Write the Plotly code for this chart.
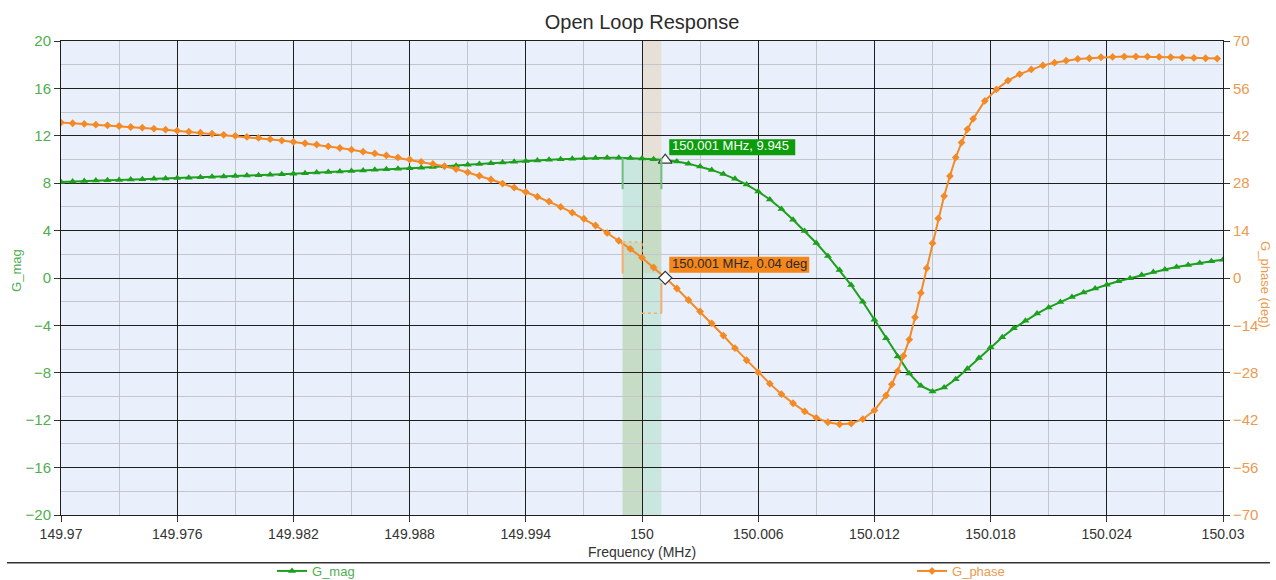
import plotly.graph_objects as go

# ---- sweep data -----------------------------------------------------------
SWEEP_START = 149.97      # MHz
SWEEP_STEP = 0.0006       # MHz
SWEEP_POINTS = 101

freq_mag = [round(SWEEP_START + SWEEP_STEP * k, 4) for k in range(SWEEP_POINTS)]

g_mag = [
    8.10, 8.15, 8.19, 8.22, 8.25, 8.28, 8.31, 8.34, 8.37, 8.40,
    8.43, 8.47, 8.51, 8.54, 8.57, 8.61, 8.65, 8.68, 8.72, 8.76,
    8.80, 8.85, 8.90, 8.94, 8.99, 9.04, 9.08, 9.13, 9.17, 9.22,
    9.26, 9.31, 9.36, 9.42, 9.48, 9.55, 9.61, 9.68, 9.75, 9.81,
    9.87, 9.92, 9.97, 10.02, 10.06, 10.10, 10.13, 10.15, 10.15, 10.13,
    10.09, 10.03, 9.945, 9.84, 9.65, 9.41, 9.12, 8.77, 8.37, 7.88,
    7.30, 6.62, 5.82, 4.92, 3.96, 2.95, 1.85, 0.67, -0.60, -2.00,
    -3.52, -5.08, -6.62, -8.05, -9.10, -9.58, -9.25, -8.55, -7.65, -6.75,
    -5.85, -5.00, -4.25, -3.60, -3.00, -2.48, -2.02, -1.60, -1.22, -0.88,
    -0.57, -0.28, -0.02, 0.25, 0.50, 0.72, 0.92, 1.10, 1.27, 1.42,
    1.55,
]

# phase sweep is refined around the steep transition
freq_phase = freq_mag[:72] + [
    150.0129, 150.0132, 150.0135, 150.0138, 150.0141, 150.0144, 150.0147,
    150.0150, 150.0153, 150.0156, 150.0159, 150.0162, 150.0165, 150.0168,
    150.0171,
    150.0177, 150.0183, 150.0189, 150.0195, 150.0201, 150.0207, 150.0213,
    150.0219, 150.0225, 150.0231, 150.0237, 150.0243, 150.0249, 150.0255,
    150.0261, 150.0267, 150.0273, 150.0279, 150.0285, 150.0291, 150.0297,
]

g_phase = [
    45.9, 45.7, 45.5, 45.3, 45.1, 44.9, 44.6, 44.4, 44.1, 43.8,
    43.5, 43.2, 42.9, 42.6, 42.3, 42.0, 41.7, 41.4, 41.0, 40.6,
    40.2, 39.8, 39.4, 38.9, 38.4, 37.9, 37.3, 36.8, 36.2, 35.6,
    35.0, 34.3, 33.7, 33.0, 32.2, 31.2, 30.2, 29.1, 27.9, 26.7,
    25.4, 24.0, 22.6, 21.0, 19.3, 17.5, 15.5, 13.3, 11.0, 8.6,
    6.0, 3.1, 0.04, -3.1, -6.5, -9.9, -13.4, -17.0, -20.7, -24.3,
    -27.9, -31.2, -34.3, -37.0, -39.4, -41.3, -42.6, -43.2, -43.0, -41.7,
    -39.1, -34.7,
    -31.4, -27.5, -23.0, -18.2, -11.6, -4.4, 2.9, 10.3, 17.6, 24.2,
    30.1, 35.6, 40.0, 43.9, 47.0,
    52.3, 55.7, 58.3, 60.2, 61.6, 62.8, 63.6, 64.2, 64.7, 64.9,
    65.2, 65.3, 65.4, 65.4, 65.4, 65.3, 65.2, 65.1, 65.0, 64.9,
    64.8,
]

# cursor placed on sweep point 52
CURSOR_IDX = 52
cursor_freq = freq_mag[CURSOR_IDX]
cursor_mag = g_mag[CURSOR_IDX]
cursor_phase = g_phase[freq_phase.index(cursor_freq)]

# ---- axis ticks -----------------------------------------------------------
x_tick_vals = [149.97, 149.976, 149.982, 149.988, 149.994, 150.0,
               150.006, 150.012, 150.018, 150.024, 150.03]
x_tick_text = ["149.97", "149.976", "149.982", "149.988", "149.994", "150",
               "150.006", "150.012", "150.018", "150.024", "150.03"]
y_tick_vals = [-20, -16, -12, -8, -4, 0, 4, 8, 12, 16, 20]
y2_tick_vals = [-70, -56, -42, -28, -14, 0, 14, 28, 42, 56, 70]

# ---- styling --------------------------------------------------------------
GREEN = "#1c9f1c"
ORANGE = "#f28a25"
GREEN_TXT = "#4fae4f"
ORANGE_TXT = "#eb9a50"
MAJOR_GRID = "#1e1e1e"
MINOR_GRID = "#c3c6cc"
FONT = "Liberation Sans, Arial, sans-serif"

# marker band edges (MHz)
band_lo, band_mid, band_hi = 149.999, 150.0, 150.001

fig = go.Figure()

fig.add_trace(go.Scatter(
    x=freq_mag, y=g_mag, name=f"<span style='color:{GREEN_TXT}'>G_mag</span>",
    mode="lines+markers", line=dict(color=GREEN, width=2),
    marker=dict(symbol="triangle-up", size=7, color=GREEN),
    yaxis="y", legend="legend",
))
fig.add_trace(go.Scatter(
    x=freq_phase, y=g_phase, name=f"<span style='color:{ORANGE_TXT}'>G_phase</span>",
    mode="lines+markers", line=dict(color=ORANGE, width=2),
    marker=dict(symbol="diamond", size=6, color=ORANGE),
    yaxis="y2", legend="legend2",
))

# cursor markers
fig.add_trace(go.Scatter(
    x=[cursor_freq], y=[cursor_mag], mode="markers", showlegend=False,
    marker=dict(symbol="triangle-up", size=12, color="white",
                line=dict(color="#333333", width=1.2)),
    yaxis="y",
))
fig.add_trace(go.Scatter(
    x=[cursor_freq], y=[cursor_phase], mode="markers", showlegend=False,
    marker=dict(symbol="diamond", size=10, color="white",
                line=dict(color="#333333", width=1.2)),
    yaxis="y2",
))

shapes = []
TAN = "rgba(220,170,80,0.22)"
MINT = "rgba(130,212,160,0.30)"
# shaded marker bands
shapes.append(dict(type="rect", xref="x", yref="y", x0=band_mid, x1=band_hi,
                   y0=0.4, y1=20, fillcolor=TAN, line=dict(width=0), layer="below"))
shapes.append(dict(type="rect", xref="x", yref="y", x0=band_lo, x1=band_mid,
                   y0=-20, y1=3.0, fillcolor=TAN, line=dict(width=0), layer="below"))
shapes.append(dict(type="rect", xref="x", yref="y", x0=band_lo, x1=band_hi,
                   y0=-20, y1=10.15, fillcolor=MINT, line=dict(width=0), layer="below"))

# magnitude bracket
for bx in (band_lo, band_hi):
    shapes.append(dict(type="line", xref="x", yref="y", x0=bx, x1=bx,
                       y0=7.5, y1=10.15, line=dict(color="#6dbf7b", width=2)))

# phase bracket
PH_BR = "#f5ae6e"
shapes.append(dict(type="line", xref="x", yref="y2", x0=band_lo, x1=band_lo,
                   y0=1.3, y1=10.6, line=dict(color=PH_BR, width=2)))
shapes.append(dict(type="line", xref="x", yref="y2", x0=band_lo, x1=band_mid,
                   y0=10.6, y1=10.6, line=dict(color=PH_BR, width=1.5, dash="dot")))
shapes.append(dict(type="line", xref="x", yref="y2", x0=band_mid, x1=band_mid,
                   y0=7.6, y1=10.6, line=dict(color=PH_BR, width=1.5, dash="dot")))
shapes.append(dict(type="line", xref="x", yref="y2", x0=band_hi, x1=band_hi,
                   y0=-10.4, y1=-1.5, line=dict(color=PH_BR, width=2)))
shapes.append(dict(type="line", xref="x", yref="y2", x0=band_mid, x1=band_hi,
                   y0=-10.4, y1=-10.4, line=dict(color=PH_BR, width=1.5, dash="dot")))

# cursor label boxes (pixel-sized, anchored at the cursor points)
shapes.append(dict(type="rect", xref="x", yref="y", xsizemode="pixel", ysizemode="pixel",
                   xanchor=cursor_freq, yanchor=cursor_mag, x0=4, x1=130, y0=5, y1=21,
                   fillcolor="#0c9c0c", line=dict(width=0)))
shapes.append(dict(type="rect", xref="x", yref="y2", xsizemode="pixel", ysizemode="pixel",
                   xanchor=cursor_freq, yanchor=cursor_phase, x0=4, x1=144, y0=5, y1=21,
                   fillcolor="#f5861c", line=dict(width=0)))

# legend separator
shapes.append(dict(type="line", xref="paper", yref="paper", x0=-0.0465, x1=1.0404,
                   y0=-0.101, y1=-0.101, line=dict(color="#333333", width=1.5)))

annotations = [
    dict(x=cursor_freq, y=cursor_mag, xref="x", yref="y",
         text=f"{cursor_freq:.3f} MHz, {cursor_mag:.3f}",
         showarrow=False, xanchor="left", yanchor="bottom", xshift=5, yshift=5,
         font=dict(family=FONT, size=13, color="white")),
    dict(x=cursor_freq, y=cursor_phase, xref="x", yref="y2",
         text=f"{cursor_freq:.3f} MHz, {cursor_phase:.2f} deg",
         showarrow=False, xanchor="left", yanchor="bottom", xshift=5, yshift=5,
         font=dict(family=FONT, size=13, color="#2a2a2a")),
    dict(x=-0.0379, y=0.517, xref="paper", yref="paper", text="G_mag",
         textangle=-90, showarrow=False, xanchor="center", yanchor="middle",
         font=dict(family=FONT, size=13, color=GREEN_TXT)),
    dict(x=1.037, y=0.485, xref="paper", yref="paper", text="G_phase (deg)",
         textangle=90, showarrow=False, xanchor="center", yanchor="middle",
         font=dict(family=FONT, size=13, color=ORANGE_TXT)),
    dict(x=0.5, y=-0.078, xref="paper", yref="paper", text="Frequency (MHz)",
         showarrow=False, xanchor="center", yanchor="middle",
         font=dict(family=FONT, size=14, color="#333333")),
]

legend_common = dict(
    orientation="h", yanchor="middle", y=-0.1181, xanchor="left",
    font=dict(family=FONT, size=13), bgcolor="rgba(0,0,0,0)",
    borderwidth=0, itemwidth=30,
)

fig.update_layout(
    width=1276, height=580,
    margin=dict(l=61, r=53, t=41, b=65, autoexpand=False),
    paper_bgcolor="white", plot_bgcolor="#eaf0fb",
    title=dict(text="Open Loop Response", x=0.5, xref="paper", y=0.962, yanchor="middle",
               font=dict(family=FONT, size=20, color="#2b2b2b")),
    font=dict(family=FONT),
    xaxis=dict(
        range=[149.97, 150.03], tickmode="array", tickvals=x_tick_vals, ticktext=x_tick_text,
        showgrid=True, gridcolor=MAJOR_GRID, gridwidth=1,
        minor=dict(tickmode="linear", tick0=149.97, dtick=0.003, showgrid=True,
                   gridcolor=MINOR_GRID, gridwidth=1, ticks=""),
        ticks="outside", ticklen=6, tickcolor="#333333",
        showline=True, linecolor=MAJOR_GRID, linewidth=1, mirror=True,
        tickfont=dict(family=FONT, size=14, color="#333333"),
        zeroline=False,
    ),
    yaxis=dict(
        range=[-20, 20], tickmode="array", tickvals=y_tick_vals,
        showgrid=True, gridcolor=MAJOR_GRID, gridwidth=1,
        minor=dict(tickmode="linear", tick0=-20, dtick=2, showgrid=True,
                   gridcolor=MINOR_GRID, gridwidth=1, ticks=""),
        ticks="outside", ticklen=6, tickcolor="#333333",
        showline=True, linecolor=MAJOR_GRID, linewidth=1, mirror=True,
        tickfont=dict(family=FONT, size=15, color=GREEN_TXT),
        zeroline=False,
    ),
    yaxis2=dict(
        range=[-70, 70], tickmode="array", tickvals=y2_tick_vals,
        overlaying="y", side="right", showgrid=False, zeroline=False,
        ticks="outside", ticklen=6, tickcolor="#333333",
        showline=True, linecolor=MAJOR_GRID, linewidth=1,
        tickfont=dict(family=FONT, size=15, color=ORANGE_TXT),
    ),
    legend=dict(x=0.1816, **legend_common),
    legend2=dict(x=0.7324, **legend_common),
    shapes=shapes, annotations=annotations,
    hovermode="closest",
)

fig.write_html("out.html")
